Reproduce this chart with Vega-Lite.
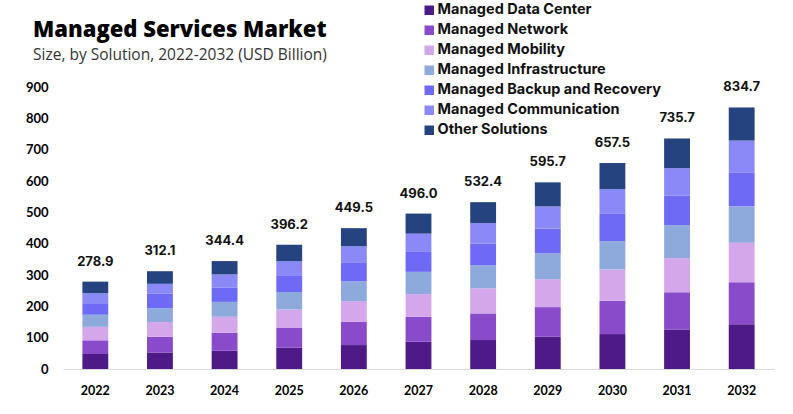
{
  "$schema": "https://vega.github.io/schema/vega-lite/v6.json",
  "width": 711,
  "height": 282,
  "autosize": {"type": "none"},
  "padding": {"left": 63, "top": 87, "right": 19, "bottom": 45},
  "background": "white",
  "title": {
    "text": "Managed Services Market",
    "subtitle": "Size, by Solution, 2022-2032 (USD Billion)",
    "anchor": "start",
    "frame": "group",
    "dx": -30,
    "dy": 91,
    "offset": 30,
    "font": "Open Sans",
    "fontSize": 22,
    "fontWeight": 800,
    "color": "#000000",
    "subtitleFont": "Open Sans",
    "subtitleFontSize": 15.5,
    "subtitleColor": "#333333",
    "subtitlePadding": 6
  },
  "data": {
    "values": [
      {"year": "2022", "solution": "Managed Data Center", "value": 47.8},
      {"year": "2022", "solution": "Managed Network", "value": 43.8},
      {"year": "2022", "solution": "Managed Mobility", "value": 42.8},
      {"year": "2022", "solution": "Managed Infrastructure", "value": 38.8},
      {"year": "2022", "solution": "Managed Backup and Recovery", "value": 36.8},
      {"year": "2022", "solution": "Managed Communication", "value": 31.9},
      {"year": "2022", "solution": "Other Solutions", "value": 37.0},
      {"year": "2023", "solution": "Managed Data Center", "value": 52.8},
      {"year": "2023", "solution": "Managed Network", "value": 49.8},
      {"year": "2023", "solution": "Managed Mobility", "value": 47.4},
      {"year": "2023", "solution": "Managed Infrastructure", "value": 44.2},
      {"year": "2023", "solution": "Managed Backup and Recovery", "value": 45.8},
      {"year": "2023", "solution": "Managed Communication", "value": 31.9},
      {"year": "2023", "solution": "Other Solutions", "value": 40.2},
      {"year": "2024", "solution": "Managed Data Center", "value": 58.1},
      {"year": "2024", "solution": "Managed Network", "value": 57.6},
      {"year": "2024", "solution": "Managed Mobility", "value": 51.0},
      {"year": "2024", "solution": "Managed Infrastructure", "value": 47.4},
      {"year": "2024", "solution": "Managed Backup and Recovery", "value": 45.1},
      {"year": "2024", "solution": "Managed Communication", "value": 42.6},
      {"year": "2024", "solution": "Other Solutions", "value": 42.6},
      {"year": "2025", "solution": "Managed Data Center", "value": 68.2},
      {"year": "2025", "solution": "Managed Network", "value": 62.7},
      {"year": "2025", "solution": "Managed Mobility", "value": 58.7},
      {"year": "2025", "solution": "Managed Infrastructure", "value": 56.2},
      {"year": "2025", "solution": "Managed Backup and Recovery", "value": 53.2},
      {"year": "2025", "solution": "Managed Communication", "value": 45.2},
      {"year": "2025", "solution": "Other Solutions", "value": 52.0},
      {"year": "2026", "solution": "Managed Data Center", "value": 76.4},
      {"year": "2026", "solution": "Managed Network", "value": 74.2},
      {"year": "2026", "solution": "Managed Mobility", "value": 66.0},
      {"year": "2026", "solution": "Managed Infrastructure", "value": 63.4},
      {"year": "2026", "solution": "Managed Backup and Recovery", "value": 58.5},
      {"year": "2026", "solution": "Managed Communication", "value": 53.2},
      {"year": "2026", "solution": "Other Solutions", "value": 57.8},
      {"year": "2027", "solution": "Managed Data Center", "value": 87.0},
      {"year": "2027", "solution": "Managed Network", "value": 79.6},
      {"year": "2027", "solution": "Managed Mobility", "value": 72.4},
      {"year": "2027", "solution": "Managed Infrastructure", "value": 71.0},
      {"year": "2027", "solution": "Managed Backup and Recovery", "value": 63.6},
      {"year": "2027", "solution": "Managed Communication", "value": 58.4},
      {"year": "2027", "solution": "Other Solutions", "value": 64.0},
      {"year": "2028", "solution": "Managed Data Center", "value": 92.4},
      {"year": "2028", "solution": "Managed Network", "value": 85.0},
      {"year": "2028", "solution": "Managed Mobility", "value": 79.6},
      {"year": "2028", "solution": "Managed Infrastructure", "value": 74.0},
      {"year": "2028", "solution": "Managed Backup and Recovery", "value": 69.0},
      {"year": "2028", "solution": "Managed Communication", "value": 66.0},
      {"year": "2028", "solution": "Other Solutions", "value": 66.4},
      {"year": "2029", "solution": "Managed Data Center", "value": 103.0},
      {"year": "2029", "solution": "Managed Network", "value": 94.5},
      {"year": "2029", "solution": "Managed Mobility", "value": 89.1},
      {"year": "2029", "solution": "Managed Infrastructure", "value": 82.4},
      {"year": "2029", "solution": "Managed Backup and Recovery", "value": 79.0},
      {"year": "2029", "solution": "Managed Communication", "value": 71.0},
      {"year": "2029", "solution": "Other Solutions", "value": 76.7},
      {"year": "2030", "solution": "Managed Data Center", "value": 111.5},
      {"year": "2030", "solution": "Managed Network", "value": 106.0},
      {"year": "2030", "solution": "Managed Mobility", "value": 100.0},
      {"year": "2030", "solution": "Managed Infrastructure", "value": 90.5},
      {"year": "2030", "solution": "Managed Backup and Recovery", "value": 87.0},
      {"year": "2030", "solution": "Managed Communication", "value": 79.0},
      {"year": "2030", "solution": "Other Solutions", "value": 83.5},
      {"year": "2031", "solution": "Managed Data Center", "value": 126.0},
      {"year": "2031", "solution": "Managed Network", "value": 119.0},
      {"year": "2031", "solution": "Managed Mobility", "value": 109.0},
      {"year": "2031", "solution": "Managed Infrastructure", "value": 105.0},
      {"year": "2031", "solution": "Managed Backup and Recovery", "value": 95.0},
      {"year": "2031", "solution": "Managed Communication", "value": 87.0},
      {"year": "2031", "solution": "Other Solutions", "value": 94.7},
      {"year": "2032", "solution": "Managed Data Center", "value": 143.0},
      {"year": "2032", "solution": "Managed Network", "value": 134.0},
      {"year": "2032", "solution": "Managed Mobility", "value": 126.0},
      {"year": "2032", "solution": "Managed Infrastructure", "value": 116.0},
      {"year": "2032", "solution": "Managed Backup and Recovery", "value": 107.0},
      {"year": "2032", "solution": "Managed Communication", "value": 103.0},
      {"year": "2032", "solution": "Other Solutions", "value": 105.7}
    ]
  },
  "encoding": {
    "x": {
      "field": "year",
      "type": "ordinal",
      "title": null,
      "scale": {"paddingInner": 0.6, "paddingOuter": 0.3},
      "axis": {
        "labelAngle": 0,
        "ticks": false,
        "domainColor": "#d9d9d9",
        "domainWidth": 1,
        "labelFont": "Lato",
        "labelFontWeight": "bold",
        "labelFontSize": 12.5,
        "labelColor": "#000000",
        "labelPadding": 15
      }
    }
  },
  "layer": [
    {
      "transform": [
        {"calculate": "indexof(['Managed Data Center', 'Managed Network', 'Managed Mobility', 'Managed Infrastructure', 'Managed Backup and Recovery', 'Managed Communication', 'Other Solutions'], datum.solution)", "as": "stackOrder"}
      ],
      "mark": {"type": "bar"},
      "encoding": {
        "y": {
          "field": "value",
          "type": "quantitative",
          "stack": "zero",
          "title": null,
          "scale": {"domain": [0, 900], "nice": false},
          "axis": {
            "values": [0, 100, 200, 300, 400, 500, 600, 700, 800, 900],
            "labelOverlap": false,
            "domain": false,
            "ticks": false,
            "grid": false,
            "labelFont": "Lato",
            "labelFontWeight": "bold",
            "labelFontSize": 13,
            "labelColor": "#000000",
            "labelPadding": 15
          }
        },
        "order": {"field": "stackOrder", "type": "quantitative", "sort": "ascending"},
        "color": {
          "field": "solution",
          "type": "nominal",
          "sort": ["Managed Data Center", "Managed Network", "Managed Mobility", "Managed Infrastructure", "Managed Backup and Recovery", "Managed Communication", "Other Solutions"],
          "scale": {
            "domain": ["Managed Data Center", "Managed Network", "Managed Mobility", "Managed Infrastructure", "Managed Backup and Recovery", "Managed Communication", "Other Solutions"],
            "range": ["#4d1a87", "#8a4bcb", "#d4a7ea", "#8eaadd", "#6f6af6", "#8b88f7", "#25437f"]
          },
          "legend": {
            "title": null,
            "orient": "none",
            "legendX": 359,
            "legendY": -84,
            "padding": 0,
            "symbolType": "square",
            "symbolSize": 90,
            "symbolStrokeWidth": 0,
            "labelFont": "Inter",
            "labelFontSize": 14.5,
            "labelFontWeight": "bold",
            "labelColor": "#111111",
            "labelLimit": 400,
            "labelOffset": 1,
            "rowPadding": 5
          }
        }
      }
    },
    {
      "mark": {"type": "text", "dy": -13, "font": "Inter", "fontSize": 13, "fontWeight": "bold", "color": "#111111", "baseline": "bottom"},
      "encoding": {
        "y": {
          "field": "value",
          "type": "quantitative",
          "aggregate": "sum",
          "title": null,
          "scale": {"domain": [0, 900], "nice": false},
          "axis": {
            "values": [0, 100, 200, 300, 400, 500, 600, 700, 800, 900],
            "labelOverlap": false,
            "domain": false,
            "ticks": false,
            "grid": false,
            "labelFont": "Lato",
            "labelFontWeight": "bold",
            "labelFontSize": 13,
            "labelColor": "#000000",
            "labelPadding": 15
          }
        },
        "text": {"field": "value", "type": "quantitative", "aggregate": "sum", "format": ".1f"}
      }
    }
  ],
  "config": {
    "view": {"stroke": null},
    "axisY": {"labelOverlap": false}
  }
}
